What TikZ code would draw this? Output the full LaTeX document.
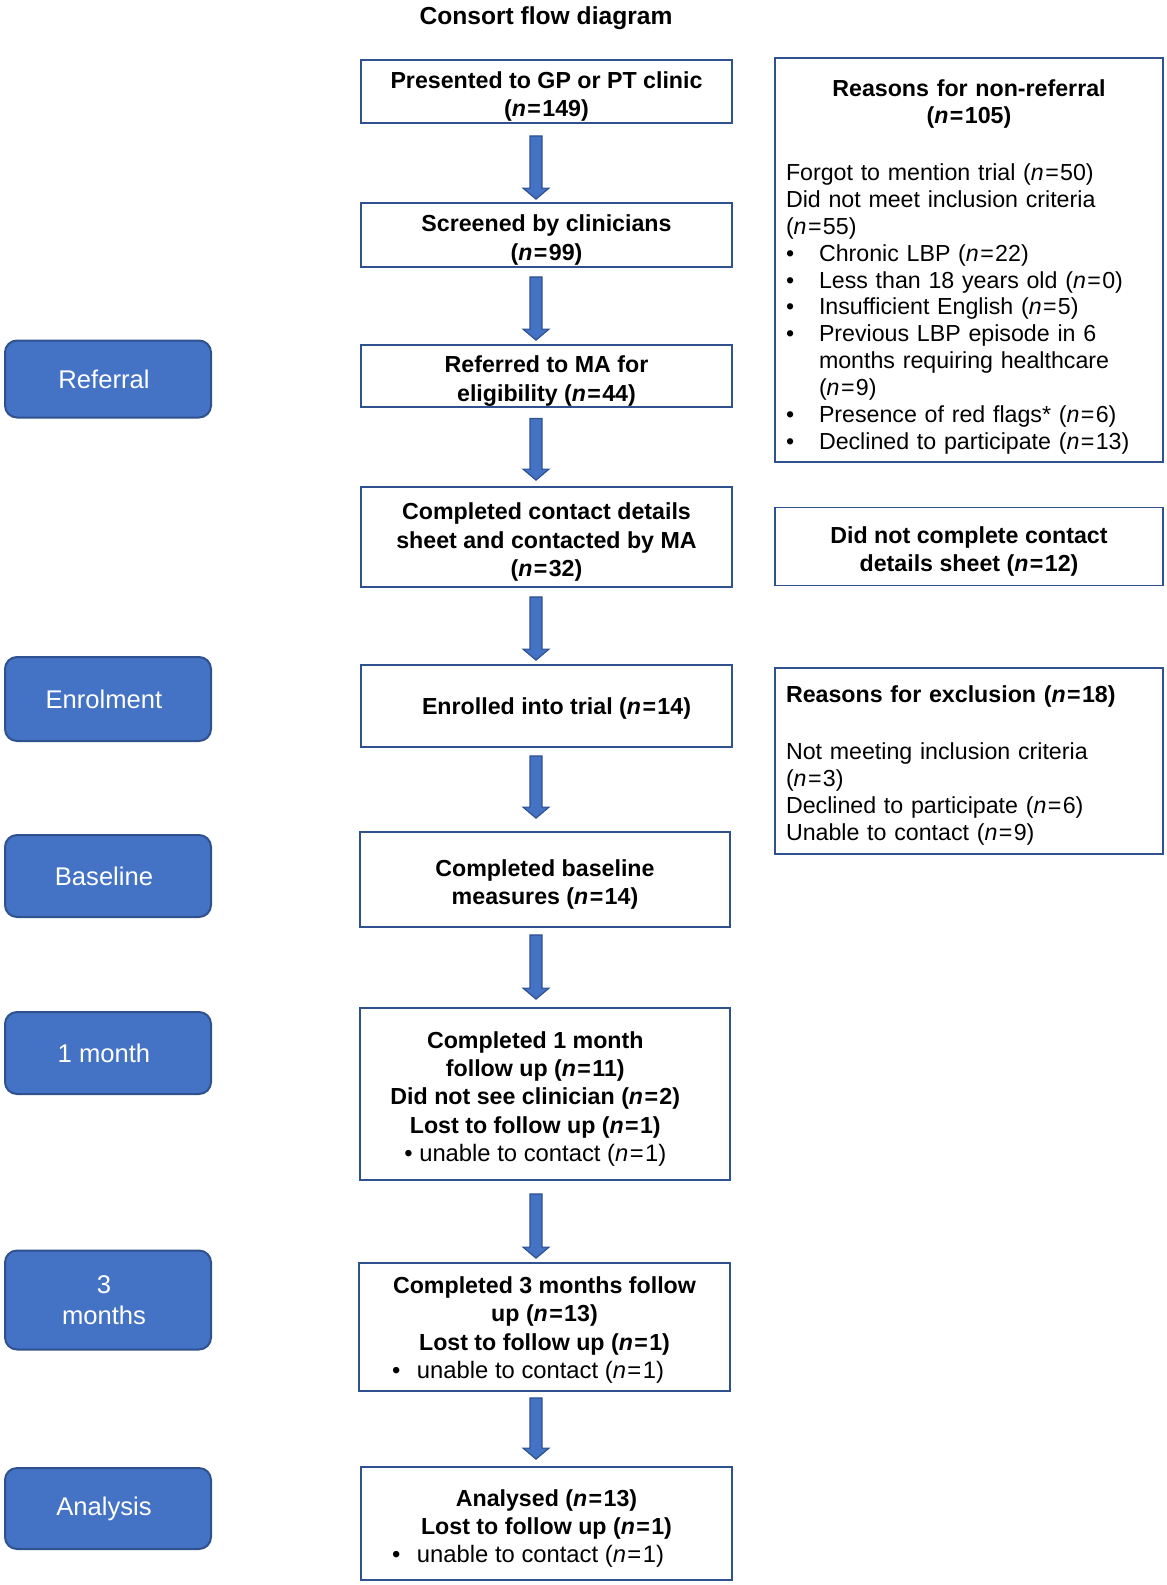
\documentclass[tikz,border=0pt]{standalone}
\usepackage{fontspec}
\setmainfont{Liberation Sans}
\usetikzlibrary{calc}
\definecolor{fillblue}{HTML}{4472C4}
\definecolor{edgeblue}{HTML}{2F528F}
\newcommand\nval[1]{(\textit{n}\kern0.06em=\kern0.06em#1)}
\newcommand\bitem{\makebox[16.5pt][l]{\textbullet}}
\newcommand\topstrut{\rule{0pt}{13.5pt}}
\newcommand\regline{\fontsize{11.9pt}{14.15pt}\selectfont\mdseries}
\newcommand\barrow[4]{%
  \draw[blockarrow] let \p1=(#1.south), \p2=(#2.north) in
   (265pt,\y1-#3*0.5pt) -- (271pt,\y1-#3*0.5pt) -- (271pt,\y2+#4*0.5pt+5.5pt)
   -- (274.5pt,\y2+#4*0.5pt+5.5pt) -- (268pt,\y2+#4*0.5pt)
   -- (261.5pt,\y2+#4*0.5pt+5.5pt) -- (265pt,\y2+#4*0.5pt+5.5pt) -- cycle;}
\begin{document}
\begin{tikzpicture}[x=0.5pt,y=-0.5pt,
  sz/.style 2 args={minimum width=#1*0.5pt, minimum height=#2*0.5pt},
  boldfont/.style={font=\fontsize{11.6pt}{14.15pt}\selectfont\bfseries},
  cbox/.style={draw=edgeblue, line width=0.9pt, inner sep=0pt, align=center, boldfont},
  ctext/.style={inner sep=0pt, align=center, boldfont},
  rbox/.style={draw=edgeblue, line width=0.9pt, inner xsep=5.5pt, inner ysep=0pt,
    font=\fontsize{11.6pt}{13.45pt}\selectfont},
  lbox/.style={draw=edgeblue, fill=fillblue, line width=1pt, rounded corners=6pt,
    text=white, align=center, inner sep=0pt, font=\fontsize{12.8pt}{15.7pt}\selectfont},
  blockarrow/.style={fill=fillblue, draw=edgeblue, line width=0.6pt}]
\useasboundingbox (0,0) rectangle (1167,1585);

\node[font=\fontsize{12.3pt}{14pt}\selectfont\bfseries] (title) at (546,18) {Consort flow diagram};

% left stage labels
\node[lbox, sz={206}{77}] (lref) at (108,379) {Referral\hspace*{4pt}};
\node[lbox, sz={206}{84}] (lenr) at (108,699) {Enrolment\hspace*{4pt}};
\node[lbox, sz={206}{82}] (lbase) at (108,876) {Baseline\hspace*{4pt}};
\node[lbox, sz={206}{82}] (lone) at (108,1053) {1 month\hspace*{4pt}};
\node[lbox, sz={206}{99}] (lthree) at (108,1300) {3\hspace*{4pt}\\months\hspace*{4pt}};
\node[lbox, sz={206}{81}] (lana) at (108,1508.5) {Analysis\hspace*{4pt}};

% centre column
\node[cbox, sz={371}{63}] (b1) at (546.5,91.5) {\topstrut Presented to GP or PT clinic\\\nval{149}};
\node[cbox, sz={371}{64}] (b2) at (546.5,235) {\topstrut Screened by clinicians\\\nval{99}};
\node[cbox, sz={371}{62}] (b3) at (546.5,376) {\topstrut Referred to MA for\\eligibility \nval{44}};
\node[cbox, sz={371}{100}] (b4) at (546.5,537) {\topstrut Completed contact details\\sheet and contacted by MA\\\nval{32}};
\node[cbox, sz={371}{82}] (b5) at (546.5,706) {};
\node[ctext, xshift=5pt, yshift=-1pt] (b5t) at (b5.center) {Enrolled into trial \nval{14}};
\node[cbox, sz={370}{95}] (b6) at (545,879.5) {\topstrut Completed baseline\\measures \nval{14}};
\node[cbox, sz={370}{172}] (b7) at (545,1094) {};
\node[ctext, xshift=-4.85pt, yshift=-2.5pt] (b7t) at (b7.center) {Completed 1 month\\follow up \nval{11}\\Did not see clinician \nval{2}\\Lost to follow up \nval{1}\\\regline\textbullet\ unable to contact \nval{1}};
\node[cbox, sz={371}{128}] (b8) at (544.5,1327) {\rule{0pt}{11.5pt}Completed 3 months follow\\up \nval{13}\\Lost to follow up \nval{1}\\\regline\textbullet\hspace{8.3pt}unable to contact \nval{1}\hspace*{16.5pt}};
\node[cbox, sz={371}{113}] (b9) at (546.5,1523.5) {\topstrut Analysed \nval{13}\\Lost to follow up \nval{1}\\\regline\textbullet\hspace{8.3pt}unable to contact \nval{1}\hspace*{18.5pt}};

% right column
\node[rbox, sz={388}{404}, text width=183pt, align=left] (r1) at (969,260) {%
\setlength{\parindent}{0pt}\setlength{\parskip}{0pt}%
{\centering\bfseries\rule{0pt}{15.5pt}Reasons for non-referral\\\nval{105}\par}%
\vspace{15pt}%
Forgot to mention trial \nval{50}\\
Did not meet inclusion criteria\\
\nval{55}\\
\bitem Chronic LBP \nval{22}\\
\bitem Less than 18 years old \nval{0}\\
\bitem Insufficient English \nval{5}\\
\bitem Previous LBP episode in 6\\
\hspace*{16.5pt}months requiring healthcare\\
\hspace*{16.5pt}\nval{9}\\
\bitem Presence of red flags* \nval{6}\\
\bitem Declined to participate \nval{13}};
\node[rbox, sz={388}{78}, align=center, boldfont] (r2) at (969,546.5) {\topstrut Did not complete contact\\details sheet \nval{12}};
\node[rbox, sz={388}{186}, text width=183pt, align=left] (r3) at (969,761) {%
\setlength{\parindent}{0pt}%
\textbf{\rule{0pt}{13pt}Reasons for exclusion \nval{18}}\\[15pt]
Not meeting inclusion criteria\\
\nval{3}\\
Declined to participate \nval{6}\\
Unable to contact \nval{9}};

% arrows
\barrow{b1}{b2}{12}{3}
\barrow{b2}{b3}{9}{4}
\barrow{b3}{b4}{10.5}{6}
\barrow{b4}{b5}{9}{4}
\barrow{b5}{b6}{8}{13}
\barrow{b6}{b7}{7}{8}
\barrow{b7}{b8}{13}{4}
\barrow{b8}{b9}{6}{7}
\end{tikzpicture}
\end{document}
